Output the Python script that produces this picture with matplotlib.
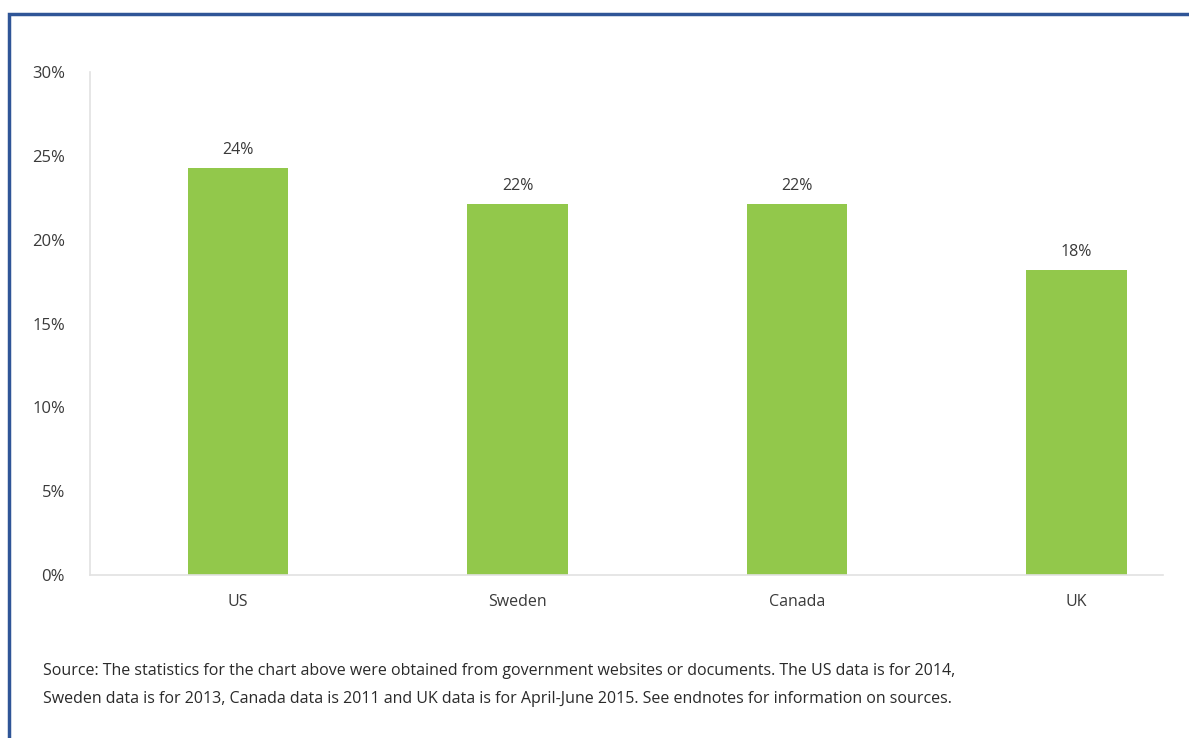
import matplotlib.pyplot as plt
from matplotlib.patches import Rectangle

countries = ['US', 'Sweden', 'Canada', 'UK']
shares = [24.3, 22.1, 22.1, 18.2]
share_labels = ['24%', '22%', '22%', '18%']
yticks = [0, 5, 10, 15, 20, 25, 30]
source = ('Source: The statistics for the chart above were obtained from government websites or documents. The US data is for 2014,\n'
          'Sweden data is for 2013, Canada data is 2011 and UK data is for April-June 2015. See endnotes for information on sources.')

plt.rcParams['font.family'] = ['Open Sans', 'DejaVu Sans']
txt = '#3a3a3a'

fig = plt.figure(figsize=(11.89, 7.38), dpi=100)
ax = fig.add_axes([90 / 1189, 1 - 575 / 738, (1163 - 90) / 1189, (575 - 72) / 738])

x = list(range(len(countries)))
bars = ax.bar(x, shares, width=0.36, color='#92c84b', zorder=2)
for b, lab in zip(bars, share_labels):
    ax.text(b.get_x() + b.get_width() / 2, b.get_height() + 0.6, lab, ha='center', va='bottom',
            fontsize=11.5, color=txt)

ax.set_xlim(-0.53, 3.31)
ax.set_ylim(0, 30)
ax.set_yticks(yticks)
ax.set_yticklabels([f'{t}%' for t in yticks], fontsize=12, color=txt)
ax.set_xticks(x)
ax.set_xticklabels(countries, fontsize=11.5, color=txt)
ax.tick_params(length=0, pad=18, axis='y')
ax.tick_params(length=0, pad=14, axis='x')
for s in ['top', 'right']:
    ax.spines[s].set_visible(False)
for s in ['left', 'bottom']:
    ax.spines[s].set_color('#e2e2e2')
    ax.spines[s].set_linewidth(1.2)

fig.text(43 / 1189, 1 - 685 / 738, source, fontsize=11.55, color='#2a2a2a',
         ha='left', va='center', linespacing=1.95)

# blue frame, only top and left edges are inside the picture
fig.patches.append(Rectangle((9 / 1189, -0.1), 1.2, 1 - 14 / 738 + 0.1, transform=fig.transFigure,
                             fill=False, edgecolor='#2f5597', linewidth=2.5))

fig.savefig('out.png', dpi=100)
